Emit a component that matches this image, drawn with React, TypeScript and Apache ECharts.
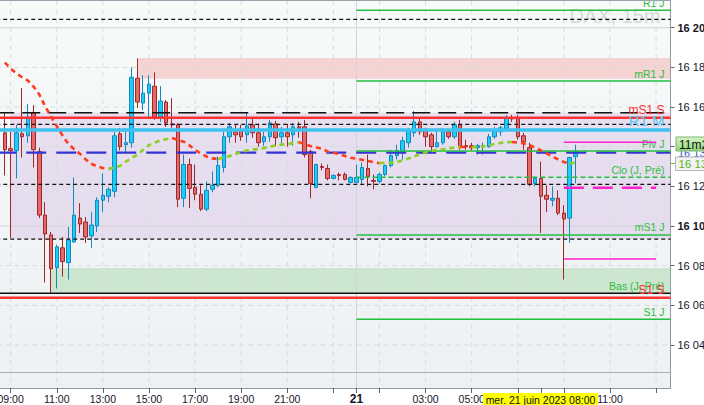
import React, { useEffect, useRef } from 'react';
import * as echarts from 'echarts';

const FONT = '"Liberation Sans", Arial, sans-serif';

// ---------- x axis: 15-minute slots, 20 June 08:30 -> 21 June 13:30 ----------
const SLOT_COUNT = 117;
const pad = (n: number) => String(n).padStart(2, '0');
const CATEGORIES: string[] = Array.from({ length: SLOT_COUNT }, (_, i) => {
  const m = 8 * 60 + 30 + i * 15;
  const day = 20 + Math.floor(m / 1440);
  const mm = m % 1440;
  return `2023-06-${day} ${pad(Math.floor(mm / 60))}:${pad(mm % 60)}`;
});
const FIRST_CANDLE = '2023-06-20 08:45';
const DAY2 = '2023-06-21 00:00';
const MAG_FROM = '2023-06-21 09:00';
const MAG_TO = '2023-06-21 13:00';

const X_LABELS = [
  '2023-06-20 09:00', '2023-06-20 11:00', '2023-06-20 13:00', '2023-06-20 15:00',
  '2023-06-20 17:00', '2023-06-20 19:00', '2023-06-20 21:00', '2023-06-21 00:00',
  '2023-06-21 03:00', '2023-06-21 05:00', '2023-06-21 11:00',
];
const X_GRID = [
  '2023-06-20 09:00', '2023-06-20 11:00', '2023-06-20 13:00', '2023-06-20 15:00',
  '2023-06-20 17:00', '2023-06-20 19:00', '2023-06-20 21:00', '2023-06-20 23:00',
  '2023-06-21 01:00', '2023-06-21 03:00', '2023-06-21 05:00', '2023-06-21 07:00',
  '2023-06-21 09:00', '2023-06-21 11:00', '2023-06-21 13:00',
];
const X_TICKS = [...X_GRID, DAY2, '2023-06-21 08:00'];
const DATE_TAG = 'mer. 21 juin 2023 08:00';

// ---------- y axis ----------
const Y_MIN = 16018.31;
const Y_MAX = 16213.97;
const Y_TICKS = [16040, 16060, 16080, 16100, 16120, 16140, 16160, 16180, 16200];

// ---------- candles (DAX 15m) ----------
const OPEN = [
  16147, 16139, 16138, 16146.5, 16145.5, 16157, 16137.5, 16105.5, 16095.5, 16079,
  16089, 16081.5, 16092, 16104, 16102, 16095, 16100, 16113, 16115, 16117.5,
  16146.5, 16141, 16142, 16174.5, 16162, 16167, 16170.5, 16155, 16162.5, 16151.5,
  16151, 16114, 16131, 16119.5, 16116, 16108.5, 16118.5, 16120.5, 16129.5, 16145,
  16147.5, 16148, 16146, 16151, 16147, 16142.5, 16145, 16151.5, 16145, 16147,
  16146, 16150, 16150, 16137.5, 16119.5, 16130, 16129, 16124, 16126, 16126,
  16122, 16122, 16123.5, 16129, 16123, 16122.5, 16126, 16130.5, 16135.5, 16137.5,
  16142, 16147, 16152.5, 16148, 16146, 16140, 16142, 16147.5, 16145, 16151,
  16140.5, 16140.5, 16139.5, 16140, 16140, 16145, 16147.5, 16149, 16154.5, 16154.5,
  16145.5, 16139.5, 16121.5, 16124, 16115.5, 16113, 16114, 16106.5, 16104, 16135,
];
const CLOSE = [
  16138.5, 16138, 16147, 16145, 16155, 16138.5, 16105.5, 16096, 16078.5, 16089.5,
  16082, 16093, 16105.5, 16101, 16094.5, 16100.5, 16113, 16115.5, 16118.5, 16145.5,
  16140, 16142, 16175, 16162.5, 16167, 16171.5, 16155, 16163, 16152, 16151,
  16113.5, 16131, 16119, 16116, 16108.5, 16118, 16120.5, 16130.5, 16145, 16150,
  16146, 16145, 16150.5, 16147, 16142, 16145, 16152, 16144.5, 16147, 16145,
  16150, 16149, 16136, 16121.5, 16131, 16129.5, 16124, 16125.5, 16125.5, 16123.5,
  16124.5, 16124.5, 16129.5, 16125, 16122.5, 16126, 16130.5, 16135.5, 16138, 16143,
  16148, 16152.5, 16147.5, 16145, 16140, 16142, 16148, 16145, 16151, 16140,
  16140, 16139.5, 16140.5, 16140.5, 16145, 16148, 16149.5, 16154.5, 16154, 16145,
  16142.5, 16121, 16124, 16115, 16113.5, 16114, 16106.5, 16103.5, 16134.5, 16137.5,
];
const LOW = [
  16125.5, 16094, 16124, 16134.5, 16142, 16129.5, 16104, 16071.5, 16066, 16068.5,
  16074.5, 16073, 16091.5, 16096.5, 16091.5, 16089, 16097, 16107, 16112, 16114.5,
  16138, 16137, 16139.5, 16159.5, 16158.5, 16154.5, 16153.5, 16152.5, 16150, 16149.5,
  16109.5, 16109.5, 16109, 16113, 16107.5, 16107.5, 16117, 16119.5, 16127, 16142,
  16142, 16143, 16142, 16144.5, 16140, 16140.5, 16142.5, 16140.5, 16141, 16140,
  16140.5, 16144.5, 16134.5, 16114, 16119, 16128, 16123, 16123.5, 16123, 16123,
  16121.5, 16121.5, 16121, 16120, 16118.5, 16121.5, 16125, 16129.5, 16133.5, 16133.5,
  16139.5, 16145, 16146, 16140, 16137, 16139.5, 16141, 16144, 16144, 16138.5,
  16138.5, 16138, 16136, 16136, 16139.5, 16144, 16145.5, 16148, 16152.5, 16143.5,
  16138.5, 16120, 16120, 16096.5, 16107, 16110, 16105.5, 16073, 16091.5, 16121.5,
];
const HIGH = [
  16157.5, 16147.5, 16151, 16169.5, 16161.5, 16161, 16139.5, 16112, 16097, 16090.5,
  16094.5, 16099.5, 16124.5, 16111.5, 16104.5, 16107, 16114.5, 16126.5, 16119.5, 16147.5,
  16149.5, 16149.5, 16180, 16184.5, 16176, 16176, 16177.5, 16170.5, 16163.5, 16164.5,
  16152, 16136, 16134, 16131, 16120.5, 16122.5, 16127.5, 16135, 16147.5, 16152,
  16151, 16151, 16157, 16154.5, 16151.5, 16147.5, 16153.5, 16153, 16150, 16151.5,
  16152, 16152.5, 16153.5, 16138.5, 16131.5, 16131.5, 16131, 16126, 16127, 16127,
  16125, 16131, 16132, 16136, 16126, 16127, 16131, 16138.5, 16141, 16145,
  16149.5, 16158, 16154.5, 16149.5, 16147, 16148.5, 16149.5, 16149, 16152.5, 16153.5,
  16143.5, 16142, 16141.5, 16142, 16146.5, 16150, 16150.5, 16156, 16156, 16156,
  16147, 16142, 16125, 16132.5, 16120.5, 16120, 16118, 16110.5, 16135, 16141,
];
// moving average (colored by slope)
const MA = [
  16182.4, 16179.4, 16176.9, 16175.0, 16173.3, 16170.2, 16166.2, 16160.3, 16155.2, 16150.4,
  16145.6, 16141.5, 16138.8, 16136.5, 16133.6, 16131.4, 16130.1, 16129.2, 16128.8, 16129.4,
  16130.3, 16132.5, 16134.3, 16135.9, 16138.5, 16140.8, 16142.1, 16143.2, 16143.8, 16144.4,
  16143.5, 16142.5, 16140.7, 16138.4, 16136.6, 16135.0, 16134.1, 16133.8, 16134.5, 16135.3,
  16136.3, 16137.2, 16138.1, 16138.5, 16138.8, 16139.4, 16140.0, 16140.6, 16141.0, 16141.3,
  16141.8, 16142.3, 16141.3, 16140.3, 16139.7, 16139.0, 16137.6, 16136.9, 16136.3, 16135.3,
  16134.4, 16134.0, 16133.4, 16132.8, 16132.2, 16131.7, 16131.8, 16131.9, 16132.3, 16133.0,
  16134.0, 16135.0, 16136.2, 16137.2, 16137.8, 16138.3, 16138.7, 16139.1, 16139.6, 16139.9,
  16139.8, 16139.7, 16139.8, 16140.1, 16140.7, 16141.4, 16141.9, 16142.2, 16142.4, 16142.1,
  16141.7, 16140.8, 16139.5, 16138.1, 16136.6, 16135.0, 16133.6, 16132.3, 16131.5, 16132.0,
];

// ---------- horizontal levels ----------
const LEVEL_VALUES = [
  16204.2, 16208.8, 16173.1, 16157.1, 16154.6, 16151.3, 16148.4, 16137.0, 16137.8, 16142.2,
  16124.6, 16121.0, 16119.3, 16095.5, 16093.4, 16083.4, 16066.1, 16063.8, 16053.0,
];
const LEVEL_LABELS = [
  '', 'R1 J', 'mR1 J', '', 'mS1 S', '', 'R1 M', '', 'Piv J', '',
  'Clo (J, Pré)', '', '', 'mS1 J', '', '', 'Bas (J, Pré)', 'S1 S', 'S1 J',
];
const LEVEL_FROM: (string | null)[] = [
  null, DAY2, DAY2, null, null, null, null, null, DAY2, MAG_FROM,
  DAY2, null, MAG_FROM, DAY2, null, MAG_FROM, null, null, DAY2,
];
const LEVEL_TO: (string | null)[] = [
  null, null, null, null, null, null, null, null, null, MAG_TO,
  null, null, MAG_TO, null, null, MAG_TO, null, null, null,
];

// ---------- zones ----------
const BAND_LOW = [16174.3, 16093.4, 16066.1];
const BAND_HIGH = [16184.7, 16157.1, 16078.8];
const BAND_FROM = ['2023-06-20 14:30', '2023-06-20 09:00', '2023-06-20 10:45'];

// ---------- styles ----------
const GREEN_TXT = { color: '#2dbd3c', font: `10.5px ${FONT}`, off: 7.5 };
const RED_TXT = { color: '#ff3030', font: `12px ${FONT}`, off: 7.8 };
const CYAN_TXT = { color: '#55c8f0', font: `15px ${FONT}`, off: 10 };
const S_BLACK_DOT = { color: '#111111', width: 1.3, dash: [4, 3], txt: GREEN_TXT };
const S_BLACK_LONG = { color: '#111111', width: 1.6, dash: [18, 8], txt: GREEN_TXT };
const S_BLACK = { color: '#111111', width: 1.6, dash: null, txt: GREEN_TXT };
const S_GREEN = { color: '#22c03c', width: 1.5, dash: null, txt: GREEN_TXT };
const S_GREEN_DASH = { color: '#22c03c', width: 1.5, dash: [5, 3], txt: GREEN_TXT };
const S_RED = { color: '#ff3333', width: 2.6, dash: null, txt: RED_TXT };
const S_CYAN = { color: '#3ec2f0', width: 3.6, dash: null, txt: CYAN_TXT };
const S_NAVY = { color: '#3434d4', width: 2.4, dash: [20, 10], txt: GREEN_TXT };
const S_MAG = { color: '#ff22cc', width: 1.5, dash: null, txt: GREEN_TXT };
const S_MAG_DASH = { color: '#ff22cc', width: 2.6, dash: [20, 9], txt: GREEN_TXT };
const LEVEL_STYLE = [
  S_BLACK_DOT, S_GREEN, S_GREEN, S_BLACK_LONG, S_RED, S_BLACK_DOT, S_CYAN, S_NAVY, S_GREEN, S_MAG,
  S_GREEN_DASH, S_BLACK_DOT, S_MAG_DASH, S_GREEN, S_BLACK_DOT, S_MAG, S_BLACK, S_RED, S_GREEN,
];
const BAND_COLORS = ['rgba(244,150,150,0.38)', 'rgba(205,175,222,0.34)', 'rgba(150,210,155,0.40)'];

const idxOf = (c: string) => CATEGORIES.indexOf(c);
const fmtPrice = (v: number) => `${Math.floor(v / 1000)} ${String(Math.floor(v % 1000)).padStart(3, '0')}`;

export default function App() {
  const ref = useRef<HTMLDivElement>(null);
  useEffect(() => {
    if (!ref.current) return;
    const chart = echarts.init(ref.current, undefined, { renderer: 'svg' });
    const start = idxOf(FIRST_CANDLE);
    const candleData = CATEGORIES.map((_, i) => {
      const k = i - start;
      return k >= 0 && k < OPEN.length ? [OPEN[k], CLOSE[k], LOW[k], HIGH[k]] : ['-', '-', '-', '-'];
    });

    // split the moving average into rising / falling runs
    const runs: { a: number; b: number; up: boolean }[] = [];
    for (let k = 1; k < MA.length; k++) {
      const up = MA[k] >= MA[k - 1];
      const last = runs[runs.length - 1];
      if (last && last.up === up && last.b === k - 1) last.b = k;
      else runs.push({ a: k - 1, b: k, up });
    }
    const maSeries = runs.map((r) => ({
      type: 'line',
      data: CATEGORIES.map((_, i) => {
        const k = i - start;
        return k >= r.a && k <= r.b ? MA[k] : '-';
      }),
      symbol: 'none',
      showSymbol: false,
      silent: true,
      z: 4,
      connectNulls: false,
      lineStyle: { color: r.up ? '#8ccf1f' : '#ff3c1e', width: 2.6, type: [5, 4] },
    }));

    const option: any = {
      animation: false,
      backgroundColor: '#ffffff',
      textStyle: { fontFamily: FONT },
      grid: { left: -3.76, right: 33.5, top: 0, bottom: 17, containLabel: false, outerBoundsMode: 'none' },
      xAxis: {
        type: 'category',
        data: CATEGORIES,
        boundaryGap: true,
        axisLine: { lineStyle: { color: '#8e99a2', width: 1 } },
        axisTick: {
          show: true,
          alignWithLabel: true,
          interval: (_i: number, v: string) => X_TICKS.includes(v),
          length: 5,
          lineStyle: { color: '#5a6470' },
        },
        axisLabel: {
          interval: (_i: number, v: string) => X_LABELS.includes(v),
          formatter: (v: string) => (v.slice(11) === '00:00' ? `{b|${Number(v.slice(8, 10))}}` : v.slice(11)),
          margin: 5,
          fontSize: 10.5,
          fontFamily: FONT,
          color: '#141428',
          hideOverlap: false,
          rich: { b: { fontWeight: 'bold', fontSize: 12, fontFamily: FONT, color: '#141428' } },
        },
        splitLine: { show: false },
      },
      yAxis: {
        type: 'value',
        position: 'right',
        min: Y_MIN,
        max: Y_MAX,
        axisLine: { show: true, lineStyle: { color: '#8e99a2' } },
        axisTick: { show: true, customValues: Y_TICKS, length: 4, lineStyle: { color: '#5a6470' } },
        axisLabel: {
          customValues: Y_TICKS,
          formatter: (v: number) => (v % 100 === 0 ? `{b|${fmtPrice(v)}}` : fmtPrice(v)),
          margin: 7,
          fontSize: 11,
          fontFamily: FONT,
          color: '#141428',
          hideOverlap: false,
          rich: { b: { fontWeight: 'bold', fontSize: 11, fontFamily: FONT, color: '#141428' } },
        },
        splitLine: { show: false },
      },
      series: [
        {
          type: 'custom',
          z: 1,
          silent: true,
          data: BAND_LOW.map((lo, i) => [idxOf(BAND_FROM[i]), lo]),
          renderItem: (params: any, api: any) => {
            const i = params.dataIndex;
            const cs = params.coordSys;
            const x0 = api.coord([idxOf(BAND_FROM[i]), BAND_HIGH[i]])[0];
            const yTop = api.coord([0, BAND_HIGH[i]])[1];
            const yBot = api.coord([0, BAND_LOW[i]])[1];
            return {
              type: 'rect',
              shape: { x: x0, y: yTop, width: cs.x + cs.width - x0, height: yBot - yTop },
              style: { fill: BAND_COLORS[i] },
            };
          },
        },
        {
          type: 'custom',
          z: 1.5,
          silent: true,
          data: Y_TICKS.map((v) => [0, v]),
          renderItem: (params: any, api: any) => {
            const v = Y_TICKS[params.dataIndex];
            const cs = params.coordSys;
            const y = api.coord([0, v])[1];
            const solid = v % 100 === 0;
            return {
              type: 'line',
              shape: { x1: cs.x, y1: y, x2: cs.x + cs.width, y2: y },
              style: { stroke: solid ? '#cfd4d8' : '#d7dbde', lineWidth: 1, lineDash: solid ? null : [5, 4] },
            };
          },
        },
        {
          type: 'custom',
          z: 1.5,
          silent: true,
          data: [...X_GRID, DAY2].map((c) => [idxOf(c), Y_MIN]),
          renderItem: (params: any, api: any) => {
            const list = [...X_GRID, DAY2];
            const c = list[params.dataIndex];
            const cs = params.coordSys;
            const x = api.coord([idxOf(c), Y_MIN])[0];
            const solid = c === DAY2;
            return {
              type: 'line',
              shape: { x1: x, y1: cs.y, x2: x, y2: cs.y + cs.height },
              style: { stroke: solid ? '#cfd4d8' : '#d8dcdf', lineWidth: 1, lineDash: solid ? null : [5, 4] },
            };
          },
        },
        {
          type: 'candlestick',
          z: 2,
          silent: true,
          barWidth: 4,
          data: candleData,
          itemStyle: {
            color: '#19cff7',
            color0: '#e26a6a',
            borderColor: '#1587bd',
            borderColor0: '#a32626',
            borderWidth: 1,
          },
        },
        {
          type: 'custom',
          z: 3,
          silent: true,
          data: LEVEL_VALUES.map((v) => [0, v]),
          renderItem: (params: any, api: any) => {
            const i = params.dataIndex;
            const cs = params.coordSys;
            const st = LEVEL_STYLE[i];
            const v = LEVEL_VALUES[i];
            const y = api.coord([0, v])[1];
            const from = LEVEL_FROM[i];
            const to = LEVEL_TO[i];
            const x0 = from ? api.coord([idxOf(from), v])[0] : cs.x;
            const x1 = to ? api.coord([idxOf(to), v])[0] : cs.x + cs.width;
            const children: any[] = [
              {
                type: 'line',
                shape: { x1: x0, y1: y, x2: x1, y2: y },
                style: { stroke: st.color, lineWidth: st.width, lineDash: st.dash },
              },
            ];
            if (LEVEL_LABELS[i]) {
              children.push({
                type: 'text',
                x: cs.x + cs.width - 6,
                y: y - st.txt.off,
                style: {
                  text: LEVEL_LABELS[i],
                  fill: st.txt.color,
                  font: st.txt.font,
                  align: 'right',
                  verticalAlign: 'middle',
                },
              });
            }
            return { type: 'group', children };
          },
        },
        ...maSeries,
      ],
      graphic: [
        {
          type: 'rect',
          z: -10,
          silent: true,
          shape: { x: 0, y: 0, width: 670.5, height: 388 },
          style: {
            fill: new echarts.graphic.LinearGradient(0, 0, 0, 1, [
              { offset: 0, color: '#f8fafa' },
              { offset: 1, color: '#edf1f2' },
            ]),
          },
        },
        {
          type: 'text',
          z: 0,
          silent: true,
          x: 615,
          y: 16,
          style: { text: 'DAX, 15m', fill: '#d6d9db', font: `20px ${FONT}`, align: 'center', verticalAlign: 'middle' },
        },
        {
          type: 'line',
          z: 10,
          silent: true,
          shape: { x1: 0, y1: 0.5, x2: 670.5, y2: 0.5 },
          style: { stroke: '#9aa3ab', lineWidth: 1 },
        },
        {
          type: 'line',
          z: 10,
          silent: true,
          shape: { x1: 0, y1: 372.5, x2: 670.5, y2: 372.5 },
          style: { stroke: '#a9b1b7', lineWidth: 1 },
        },
        {
          type: 'text',
          z: 100,
          silent: true,
          x: 678,
          y: 152.5,
          style: { text: fmtPrice(CLOSE[CLOSE.length - 1]), fill: '#3a55d0', font: `11px ${FONT}`, verticalAlign: 'middle' },
        },
        {
          type: 'rect',
          z: 101,
          silent: true,
          shape: { x: 676, y: 137, width: 32, height: 14 },
          style: {
            fill: new echarts.graphic.LinearGradient(0, 0, 0, 1, [
              { offset: 0, color: '#d6f5c6' },
              { offset: 1, color: '#8fd67c' },
            ]),
            stroke: '#86b177',
            lineWidth: 1,
          },
        },
        {
          type: 'text',
          z: 102,
          silent: true,
          x: 679,
          y: 144.5,
          style: { text: '11m2', fill: '#111111', font: `12px ${FONT}`, verticalAlign: 'middle' },
        },
        {
          type: 'line',
          z: 101,
          silent: true,
          shape: { x1: 670.5, y1: 163.5, x2: 676, y2: 163.5 },
          style: { stroke: '#6cc21e', lineWidth: 1 },
        },
        {
          type: 'rect',
          z: 101,
          silent: true,
          shape: { x: 675.5, y: 157, width: 32, height: 13.5 },
          style: { fill: '#f3f3f3', stroke: '#b5b8ba', lineWidth: 1 },
        },
        {
          type: 'text',
          z: 102,
          silent: true,
          x: 678.5,
          y: 164,
          style: { text: fmtPrice(MA[MA.length - 1]), fill: '#5cb31c', font: `11.5px ${FONT}`, verticalAlign: 'middle' },
        },
        {
          type: 'rect',
          z: 101,
          silent: true,
          shape: { x: 483, y: 393, width: 115, height: 12 },
          style: { fill: '#ffff00' },
        },
        {
          type: 'text',
          z: 102,
          silent: true,
          x: 540.5,
          y: 399.5,
          style: { text: DATE_TAG, fill: '#111111', font: `10.5px ${FONT}`, align: 'center', verticalAlign: 'middle' },
        },
      ],
    };
    chart.setOption(option);
    return () => chart.dispose();
  }, []);
  return (
    <div
      ref={ref}
      style={{ position: 'fixed', left: 0, top: 0, width: 704, height: 405, background: '#ffffff' }}
    />
  );
}
